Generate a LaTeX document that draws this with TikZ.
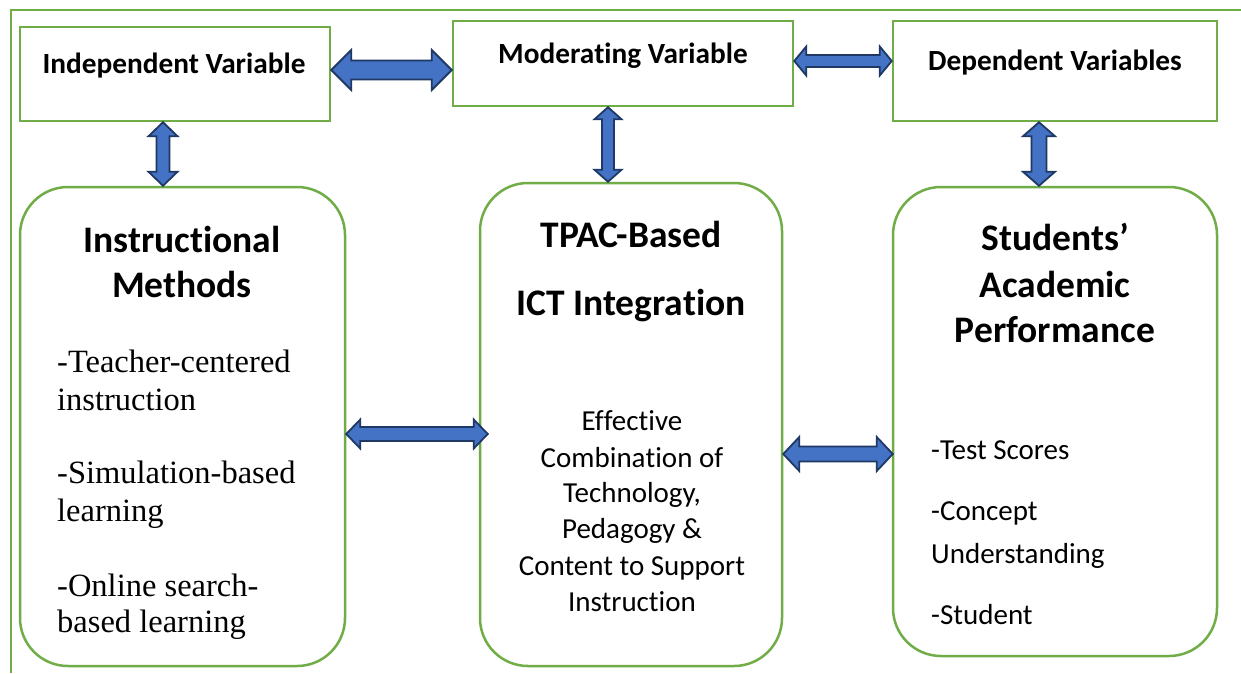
\documentclass[tikz,border=0pt]{standalone}
\usepackage{fontspec}
\setmainfont{Liberation Serif}
\newfontfamily\calibri[Ligatures={NoCommon,NoRequired,NoContextual,NoRare},RawFeature={-liga;-clig;-calt;-dlig}]{Carlito}
\newcommand\nlg{\kern0pt{}}
\usetikzlibrary{calc}
\definecolor{grn}{HTML}{70AD47}
\definecolor{arrfill}{HTML}{4472C4}
\definecolor{arrline}{HTML}{1F3864}
\tikzset{
  x=1pt, y=-1pt,
  frame/.style={draw=grn, line width=2pt},
  topbox/.style={draw=grn, line width=2.5pt, rectangle, inner sep=0, fill=white},
  roundbox/.style={draw=grn, line width=2.5pt, rectangle, rounded corners=48pt, inner sep=0, fill=white},
  fatarrow/.style={draw=arrline, fill=arrfill, line width=1.8pt, line join=miter},
  lbl/.style={anchor=base, inner sep=0},
  lblw/.style={anchor=base west, inner sep=0},
  toptxt/.style={font=\calibri\bfseries\fontsize{29.3}{35}\selectfont},
  headtxt/.style={font=\calibri\bfseries\fontsize{37.5}{44}\selectfont},
  bodytxt/.style={font=\calibri\fontsize{29}{35}\selectfont},
  timestxt/.style={font=\fontsize{32.5}{38}\selectfont},
}
\newcommand\harrow[5]{\draw[fatarrow] let \p1=(#1), \p2=(#2) in
 (\x1,\y1) -- (\x1+#5pt,\y1+#4pt) -- (\x1+#5pt,\y1+#3pt) -- (\x2-#5pt,\y1+#3pt) -- (\x2-#5pt,\y1+#4pt) -- (\x2,\y1) -- (\x2-#5pt,\y1-#4pt) -- (\x2-#5pt,\y1-#3pt) -- (\x1+#5pt,\y1-#3pt) -- (\x1+#5pt,\y1-#4pt) -- cycle;}
\newcommand\varrow[5]{\draw[fatarrow] let \p1=(#1), \p2=(#2) in
 (\x1,\y1) -- (\x1+#4pt,\y1-#5pt) -- (\x1+#3pt,\y1-#5pt) -- (\x1+#3pt,\y2+#5pt) -- (\x1+#4pt,\y2+#5pt) -- (\x1,\y2) -- (\x1-#4pt,\y2+#5pt) -- (\x1-#3pt,\y2+#5pt) -- (\x1-#3pt,\y1-#5pt) -- (\x1-#4pt,\y1-#5pt) -- cycle;}
\begin{document}
\begin{tikzpicture}
\useasboundingbox[fill=white] (0,0) rectangle (1241,673);
% outer frame
\coordinate (fa) at (11,673);
\coordinate (fb) at (11,10);
\coordinate (fc) at (1241,10);
\draw[frame] (fa) -- (fb) -- (fc);
% top boxes
\node[topbox, minimum width=310pt, minimum height=94pt] (iv) at (175,74) {};
\node[topbox, minimum width=340pt, minimum height=85pt] (mv) at (623,63.5) {};
\node[topbox, minimum width=324pt, minimum height=100pt] (dv) at (1055,71) {};
% rounded boxes
\node[roundbox, minimum width=325pt, minimum height=479pt] (lb) at (182.5,426.5) {};
\node[roundbox, minimum width=302pt, minimum height=483pt] (mb) at (631,424.5) {};
\node[roundbox, minimum width=324pt, minimum height=469pt] (rb) at (1055,421.5) {};
% arrows
\harrow{[yshift=4pt]iv.east}{mv.west}{9.5}{20}{20}
\harrow{[yshift=2.5pt]mv.east}{dv.west}{6}{14.5}{12}
\varrow{[xshift=-12pt]iv.south}{lb.north}{6.5}{14.5}{14}
\varrow{[xshift=-15pt]mv.south}{mb.north}{6}{13.5}{12}
\varrow{[xshift=-16pt]dv.south}{rb.north}{7.5}{16}{14}
\harrow{[yshift=-7.5pt]lb.east}{[xshift=9pt]mb.west}{7}{14.5}{14}
\harrow{[yshift=-29.5pt]mb.east}{[xshift=1pt]rb.west}{7.5}{17}{16}
% top texts
\node[lbl, toptxt] (t1) at (174,73) {Independent Variable};
\node[lbl, toptxt] (t2) at (623,63) {Modera\nlg ting Variable};
\node[lbl, toptxt] (t3) at (1055,70) {Dependent Variables};
% left box
\node[lbl, headtxt] (l1) at (182,252) {Instruc\nlg t\nlg ional};
\node[lbl, headtxt] (l2) at (182,297) {Methods};
\node[lblw, timestxt] (l3) at (57,372) {-Teacher-centered};
\node[lblw, timestxt] (l4) at (57,410) {instruction};
\node[lblw, timestxt] (l5) at (57,483) {-Simulation-based};
\node[lblw, timestxt] (l6) at (57,521) {learning};
\node[lblw, timestxt] (l7) at (57,596) {-Online search-};
\node[lblw, timestxt] (l8) at (57,632) {based learning};
% middle box
\node[lbl, headtxt] (m1) at (631,247) {TPAC-Based};
\node[lbl, headtxt] (m2) at (631,315) {ICT Integra\nlg t\nlg ion};
\node[lbl, bodytxt] (m3) at (632,430) {Ef\nlg fec\nlg t\nlg ive};
\node[lbl, bodytxt] (m4) at (632,467) {Combina\nlg t\nlg ion of};
\node[lbl, bodytxt] (m5) at (632,502) {Technology,};
\node[lbl, bodytxt] (m6) at (632,538) {Pedagogy \&};
\node[lbl, bodytxt] (m7) at (632,575) {Content to Support};
\node[lbl, bodytxt] (m8) at (632,611) {Instruc\nlg t\nlg ion};
% right box
\node[lbl, headtxt] (r1) at (1055,250) {Students’};
\node[lbl, headtxt] (r2) at (1055,297) {Academic};
\node[lbl, headtxt] (r3) at (1055,342) {Performance};
\node[lblw, bodytxt] (r4) at (931,459) {-Test Scores};
\node[lblw, bodytxt] (r5) at (931,520) {-Concept};
\node[lblw, bodytxt] (r6) at (931,563) {Understanding};
\node[lblw, bodytxt] (r7) at (931,624) {-Student};
\end{tikzpicture}
\end{document}
